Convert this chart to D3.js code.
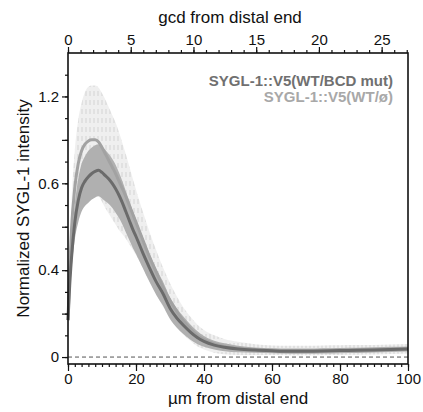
<!DOCTYPE html>
<html>
<head>
<meta charset="utf-8">
<script src="https://cdn.jsdelivr.net/npm/d3@7"></script>
<style>
  body { margin: 0; background: #fff; }
  svg { display: block; font-family: Arial, "Liberation Sans", sans-serif; }
</style>
</head>
<body>
<div id="chart"></div>
<script>
var positions = [0, 0.5, 1, 2, 3, 4, 5, 6, 7, 8, 9, 10, 11, 12, 13, 14, 15, 16, 17, 18, 19, 20,
  22, 24, 26, 28, 30, 32, 34, 36, 38, 40, 43, 46, 50, 55, 60, 65, 70, 75, 80, 85, 90, 95, 100];

// WT/BCD mut
var bcdMean = [0.17, 0.33, 0.45, 0.62, 0.72, 0.78, 0.81, 0.83, 0.845, 0.855, 0.86, 0.85, 0.835, 0.82, 0.8, 0.775, 0.745, 0.71, 0.67, 0.63, 0.59, 0.555,
  0.48, 0.41, 0.345, 0.29, 0.225, 0.18, 0.145, 0.115, 0.09, 0.072, 0.055, 0.045, 0.037, 0.032, 0.029, 0.027, 0.027, 0.028, 0.03, 0.031, 0.033, 0.035, 0.037];
var bcdErr = [0.03, 0.045, 0.06, 0.08, 0.1, 0.11, 0.115, 0.12, 0.12, 0.12, 0.12, 0.12, 0.118, 0.115, 0.113, 0.11, 0.105, 0.1, 0.095, 0.09, 0.085, 0.08,
  0.07, 0.065, 0.06, 0.055, 0.05, 0.045, 0.04, 0.035, 0.03, 0.025, 0.02, 0.018, 0.015, 0.012, 0.012, 0.012, 0.012, 0.012, 0.012, 0.012, 0.012, 0.012, 0.012];

// WT/ø
var wtMean = [0.17, 0.4, 0.58, 0.78, 0.89, 0.95, 0.98, 0.995, 1.0, 1.0, 0.99, 0.965, 0.935, 0.905, 0.875, 0.845, 0.81, 0.775, 0.74, 0.7, 0.66, 0.62,
  0.54, 0.46, 0.39, 0.32, 0.26, 0.21, 0.165, 0.13, 0.1, 0.08, 0.06, 0.048, 0.04, 0.034, 0.031, 0.03, 0.03, 0.031, 0.032, 0.033, 0.034, 0.036, 0.038];
var wtErr = [0.03, 0.08, 0.12, 0.17, 0.2, 0.22, 0.24, 0.25, 0.25, 0.25, 0.25, 0.25, 0.25, 0.245, 0.24, 0.235, 0.225, 0.21, 0.195, 0.18, 0.165, 0.15,
  0.13, 0.115, 0.1, 0.09, 0.08, 0.07, 0.062, 0.055, 0.05, 0.045, 0.04, 0.035, 0.03, 0.025, 0.022, 0.022, 0.022, 0.022, 0.022, 0.022, 0.022, 0.022, 0.022];

var yTickValues = [0, 0.4, 0.8, 1.2];
var yTickLabels = ['0', '0.4', '0.6', '1.2'];
var xTickValues = [0, 20, 40, 60, 80, 100];
var gcdTickValues = [0, 5, 10, 15, 20, 25];
var legendLabels = ['SYGL-1::V5(WT/BCD mut)', 'SYGL-1::V5(WT/\u00f8)'];

var width = 423, height = 412;
var plotLeft = 68, plotRight = 408, plotTop = 53, plotBottom = 364;

var svg = d3.select('#chart').append('svg')
  .attr('width', width)
  .attr('height', height);

var x = d3.scaleLinear().domain([0, 100]).range([plotLeft, plotRight]);
var gcd = d3.scaleLinear().domain([0, 27.1]).range([plotLeft, plotRight]);
var y = d3.scaleLinear().domain([-0.032, 1.4]).range([plotBottom, plotTop]);

var pattern = svg.append('defs').append('pattern')
  .attr('id', 'hatch')
  .attr('width', 4)
  .attr('height', 9)
  .attr('patternUnits', 'userSpaceOnUse');
pattern.append('rect').attr('width', 4).attr('height', 9).attr('fill', '#efefef');
pattern.append('line')
  .attr('x1', 2).attr('x2', 2).attr('y1', 1).attr('y2', 6)
  .attr('stroke', '#d4d4d4').attr('stroke-width', 1);

function rows(mean, err) {
  return positions.map(function (p, i) { return { x: p, m: mean[i], e: err[i] }; });
}
var bcd = rows(bcdMean, bcdErr);
var wt = rows(wtMean, wtErr);

var area = d3.area()
  .x(function (d) { return x(d.x); })
  .y0(function (d) { return y(d.m - d.e); })
  .y1(function (d) { return y(d.m + d.e); })
  .curve(d3.curveMonotoneX);
var line = d3.line()
  .x(function (d) { return x(d.x); })
  .y(function (d) { return y(d.m); })
  .curve(d3.curveMonotoneX);

svg.append('line')
  .attr('x1', plotLeft).attr('x2', plotRight)
  .attr('y1', y(0)).attr('y2', y(0))
  .attr('stroke', '#555')
  .attr('stroke-width', 1)
  .attr('stroke-dasharray', '4,3');

svg.append('path').datum(wt).attr('d', area).attr('fill', 'url(#hatch)');
svg.append('path').datum(bcd).attr('d', area).attr('fill', '#b0b0b0');
svg.append('path').datum(wt).attr('d', line)
  .attr('fill', 'none').attr('stroke', '#a2a2a2').attr('stroke-width', 3);
svg.append('path').datum(bcd).attr('d', line)
  .attr('fill', 'none').attr('stroke', '#6b6b6b').attr('stroke-width', 3);

// frame
svg.append('rect')
  .attr('x', plotLeft).attr('y', plotTop)
  .attr('width', plotRight - plotLeft).attr('height', plotBottom - plotTop)
  .attr('fill', 'none').attr('stroke', '#111').attr('stroke-width', 1.6);

function styleAxis(g) {
  g.select('.domain').remove();
  g.selectAll('.tick line').attr('stroke', '#111').attr('stroke-width', 1.2);
  g.selectAll('.tick text').attr('fill', '#111').attr('font-size', 15);
}

// bottom axis
svg.append('g')
  .attr('transform', 'translate(0,' + plotBottom + ')')
  .call(d3.axisBottom(x).tickValues(d3.range(0, 101, 2)).tickSize(3).tickFormat(''))
  .call(styleAxis);
svg.append('g')
  .attr('transform', 'translate(0,' + plotBottom + ')')
  .call(d3.axisBottom(x).tickValues(xTickValues).tickSize(7).tickPadding(2))
  .call(styleAxis);

// top axis
svg.append('g')
  .attr('transform', 'translate(0,' + plotTop + ')')
  .call(d3.axisTop(gcd).tickValues(d3.range(0, 28, 1)).tickSize(3).tickFormat(''))
  .call(styleAxis);
svg.append('g')
  .attr('transform', 'translate(0,' + plotTop + ')')
  .call(d3.axisTop(gcd).tickValues(gcdTickValues).tickSizeInner(6).tickSizeOuter(0).tickPadding(2))
  .call(styleAxis);

// left axis
svg.append('g')
  .attr('transform', 'translate(' + plotLeft + ',0)')
  .call(d3.axisLeft(y).tickValues(d3.range(0, 14).map(function (i) { return i / 10; }))
    .tickSize(3).tickFormat(''))
  .call(styleAxis);
svg.append('g')
  .attr('transform', 'translate(' + plotLeft + ',0)')
  .call(d3.axisLeft(y).tickValues([0.2, 0.6, 1.0]).tickSize(6).tickFormat(''))
  .call(styleAxis);
svg.append('g')
  .attr('transform', 'translate(' + plotLeft + ',0)')
  .call(d3.axisLeft(y).tickValues(yTickValues).tickSize(6).tickPadding(3)
    .tickFormat(function (d, i) { return yTickLabels[i]; }))
  .call(styleAxis);

// titles
svg.append('text')
  .attr('x', (plotLeft + plotRight) / 2).attr('y', 404)
  .attr('text-anchor', 'middle').attr('font-size', 17).attr('fill', '#111')
  .text('\u00b5m from distal end');
svg.append('text')
  .attr('x', 230).attr('y', 23)
  .attr('text-anchor', 'middle').attr('font-size', 17).attr('fill', '#111')
  .text('gcd from distal end');
svg.append('text')
  .attr('transform', 'translate(29,' + ((plotTop + plotBottom) / 2) + ') rotate(-90)')
  .attr('text-anchor', 'middle').attr('font-size', 17).attr('fill', '#111')
  .text('Normalized SYGL-1 intensity');

// legend
var legendColors = ['#707070', '#a8a8a8'];
svg.selectAll('.legend')
  .data(legendLabels)
  .enter().append('text')
  .attr('class', 'legend')
  .attr('x', 393)
  .attr('y', function (d, i) { return 86 + i * 16; })
  .attr('text-anchor', 'end')
  .attr('font-size', 15)
  .attr('font-weight', 'bold')
  .attr('fill', function (d, i) { return legendColors[i]; })
  .text(function (d) { return d; });
</script>
</body>
</html>
